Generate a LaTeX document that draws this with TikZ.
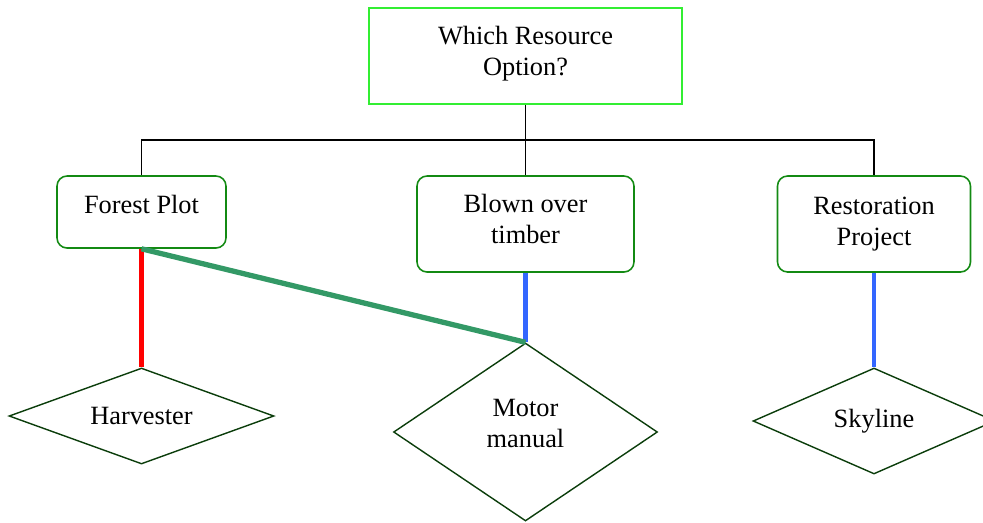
\documentclass[tikz,border=0pt]{standalone}
\usepackage{fontspec}
\setmainfont{Liberation Serif}
\usetikzlibrary{shapes.geometric}
\definecolor{resLime}{HTML}{33EE33}
\definecolor{resGreen}{HTML}{138A13}
\definecolor{resDark}{HTML}{0B3D0B}
\definecolor{resRed}{HTML}{FF0000}
\definecolor{resBlue}{HTML}{3366FF}
\definecolor{resTeal}{HTML}{339966}
\tikzset{
  res question/.style={draw=resLime, line width=1.1pt, align=center, inner sep=0pt,
    minimum width=6.26cm, minimum height=1.92cm, font=\fontsize{15}{17.6}\selectfont},
  res case/.style={draw=resGreen, line width=0.9pt, rounded corners=0.2cm, align=center,
    inner sep=0pt, font=\fontsize{15}{17.6}\selectfont},
  res method/.style={diamond, draw=resDark, line width=0.8pt, align=center, inner sep=0pt,
    font=\fontsize{15}{17.6}\selectfont},
  res bus/.style={draw=black, line width=0.9pt},
  res red/.style={draw=resRed, line width=2.6pt},
  res blue/.style={draw=resBlue, line width=2.6pt},
  res teal/.style={draw=resTeal, line width=3pt},
}
\begin{document}
\begin{tikzpicture}[x=0.02cm,y=-0.02cm]
  \useasboundingbox (0,0) rectangle (983,522);
  % question and the three cases
  \node[res question, text depth=0.2cm] (q) at (525.5,56) {Which Resource\\Option?};
  \node[res case, minimum width=3.38cm, minimum height=1.44cm, text depth=0.31cm] (fp) at (141.5,212) {Forest Plot};
  \node[res case, minimum width=4.34cm, minimum height=1.92cm, text depth=0.2cm] (bo) at (525.5,224) {Blown over\\timber};
  \node[res case, minimum width=3.86cm, minimum height=1.92cm] (rp) at (874,224) {Restoration\\Project};
  % harvesting methods
  \node[res method, aspect=2.76, minimum width=5.3cm, minimum height=1.92cm] (harv) at (141.5,416) {Harvester};
  \node[res method, aspect=1.48, minimum width=5.28cm, minimum height=3.56cm, text depth=0.35cm] (motor) at (525.5,432) {Motor\\manual};
  \node[res method, aspect=2.17, minimum width=4.84cm, minimum height=2.12cm] (sky) at (874,421) {Skyline};
  % tree lines
  \coordinate (bus) at (525.5,140);
  \draw[res bus] (q.south) -- (bo.north);
  \draw[res bus] (fp.north) -- (fp.north |- bus) -- (rp.north |- bus) -- (rp.north);
  % links to methods
  \draw[res red] (fp.south) -- (harv.north);
  \draw[res blue] (bo.south) -- (motor.north);
  \draw[res blue] (rp.south) -- (sky.north);
  \draw[res teal] (fp.south) -- (motor.north);
\end{tikzpicture}
\end{document}
